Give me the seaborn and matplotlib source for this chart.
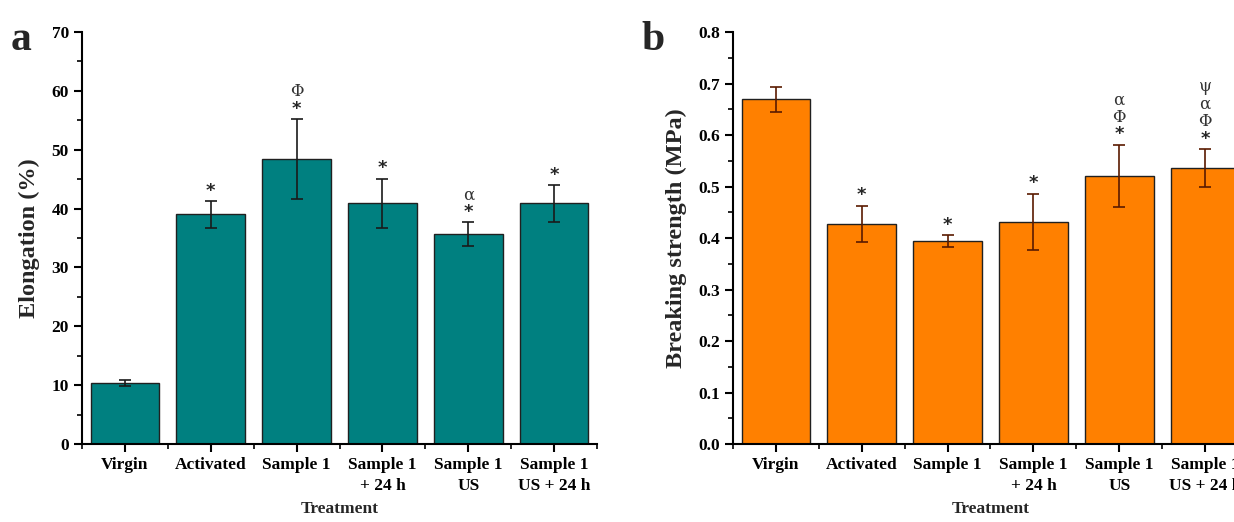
import numpy as np
import pandas as pd
import seaborn as sns
import matplotlib
matplotlib.use("Agg")
import matplotlib.pyplot as plt
from matplotlib.ticker import MultipleLocator, FixedLocator

categories = ["Virgin", "Activated", "Sample 1", "Sample 1\n+ 24 h", "Sample 1\nUS", "Sample 1\nUS + 24 h"]
elongation = [10.3, 39.0, 48.4, 40.9, 35.7, 40.9]
elongation_err = [0.5, 2.3, 6.8, 4.2, 2.0, 3.1]
strength = [0.669, 0.428, 0.394, 0.431, 0.521, 0.536]
strength_err = [0.024, 0.035, 0.012, 0.055, 0.060, 0.037]
marks_a = ["", "*", "*\nΦ", "*", "*\nα", "*"]
marks_b = ["", "*", "*", "*", "*\nΦ\nα", "*\nΦ\nα\nψ"]

sns.set_theme(style="ticks")
plt.rcParams["font.family"] = ["Liberation Serif", "DejaVu Serif"]
plt.rcParams["font.weight"] = "bold"

fig = plt.figure(figsize=(12.34, 5.22), dpi=100)
ax_a = fig.add_axes([0.0665, 0.1494, 0.4173, 0.7893])
ax_b = fig.add_axes([0.594, 0.1494, 0.4173, 0.7893])

def panel(ax, vals, errs, marks, color, ecolor, ylim, major, minor, ylabel, fmt):
    df = pd.DataFrame({"Treatment": categories, "v": vals})
    sns.barplot(data=df, x="Treatment", y="v", color=color, saturation=1,
                width=0.8, edgecolor="#202020", linewidth=1.0, errorbar=None, ax=ax)
    xs = np.arange(len(categories))
    ax.errorbar(xs, vals, yerr=errs, fmt="none", ecolor=ecolor, elinewidth=1.2,
                capsize=4, capthick=1.2)
    for x, v, e, m in zip(xs, vals, errs, marks):
        if not m:
            continue
        lines = m.split("\n")
        for k, s in enumerate(lines):
            if s == "*":
                ax.annotate(s, (x, v + e), xytext=(0, 1 + 12.5 * k), textcoords="offset points",
                            ha="center", va="bottom", fontsize=13, fontweight="bold",
                            family=["DejaVu Sans"])
            else:
                ax.annotate(s, (x, v + e), xytext=(0, 1 + 12.5 * k), textcoords="offset points",
                            ha="center", va="bottom", fontsize=12, fontweight="normal",
                            color="#333333", family=["DejaVu Serif"])
    ax.set_xlim(-0.5, 5.5)
    ax.set_ylim(*ylim)
    ax.yaxis.set_major_locator(MultipleLocator(major))
    ax.yaxis.set_minor_locator(MultipleLocator(minor))
    ax.xaxis.set_minor_locator(FixedLocator(np.arange(-0.5, 6.0, 1.0)))
    ax.yaxis.set_major_formatter(plt.FormatStrFormatter(fmt))
    for s in ["top", "right"]:
        ax.spines[s].set_visible(False)
    for s in ["left", "bottom"]:
        ax.spines[s].set_linewidth(1.5)
        ax.spines[s].set_color("black")
    ax.tick_params(axis="both", which="major", direction="out", length=6, width=1.5,
                   labelsize=12.5, colors="black")
    ax.tick_params(axis="both", which="minor", direction="out", length=3.5, width=1.2,
                   colors="black")
    for lab in ax.get_xticklabels() + ax.get_yticklabels():
        lab.set_fontweight("bold")
    for lab in ax.get_xticklabels():
        lab.set_linespacing(1.4)
    ax.set_xlabel("Treatment", fontsize=12.5, fontweight="bold", labelpad=5)
    ax.set_ylabel(ylabel, fontsize=17.5, fontweight="bold", labelpad=8)

panel(ax_a, elongation, elongation_err, marks_a, "#008080", "#1a1a1a", (0, 70), 10, 5,
      "Elongation (%)", "%d")
panel(ax_b, strength, strength_err, marks_b, "#FF8000", "#5a1a00", (0, 0.8), 0.1, 0.05,
      "Breaking strength (MPa)", "%.1f")

fig.text(0.009, 0.905, "a", fontsize=30, fontweight="bold")
fig.text(0.520, 0.905, "b", fontsize=30, fontweight="bold")

fig.savefig("out.png", dpi=100)
